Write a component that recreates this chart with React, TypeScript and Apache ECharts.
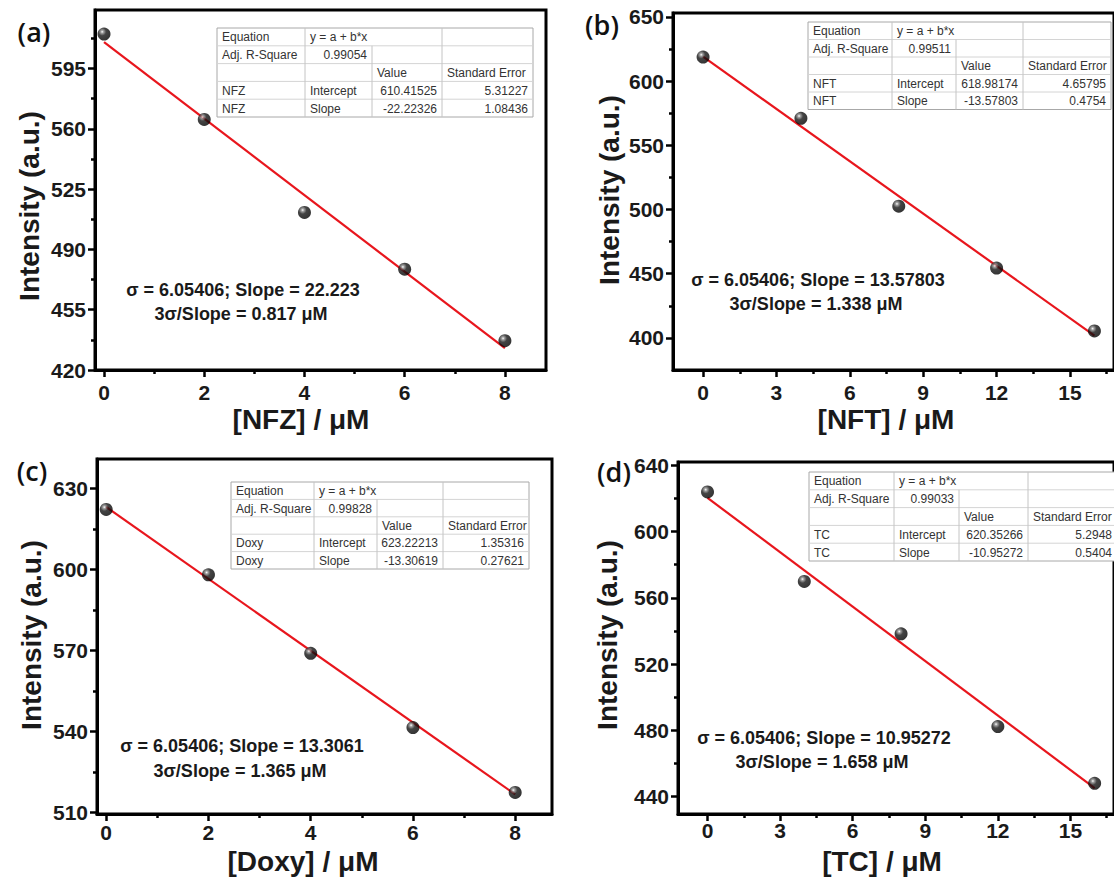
import React, { useEffect, useRef } from "react";
import * as echarts from "echarts";

const FONT = '"Liberation Sans", Arial, sans-serif';

// ---------- data ----------
const xA = [0, 2, 4, 6, 8];
const yA = [615, 565.5, 511.5, 478.5, 437];
const fitXA = [0, 8];
const fitYA = [610.42, 432.63];

const xB = [0, 4, 8, 12, 16];
const yB = [618.7, 571, 502.6, 454.4, 405.4];
const fitXB = [0, 16];
const fitYB = [618.98, 401.73];

const xC = [0, 2, 4, 6, 8];
const yC = [622.3, 598.1, 569, 541.5, 517.5];
const fitXC = [0, 8];
const fitYC = [623.22, 516.77];

const xD = [0, 4, 8, 12, 16];
const yD = [623.9, 569.9, 538.3, 482.3, 448];
const fitXD = [0, 16];
const fitYD = [620.35, 445.11];

// tick values
const xMajorA = [0, 2, 4, 6, 8];
const xMinorA = [1, 3, 5, 7];
const yMajorA = [420, 455, 490, 525, 560, 595];
const yMinorA = [437.5, 472.5, 507.5, 542.5, 577.5, 612.5];

const xMajorB = [0, 3, 6, 9, 12, 15];
const xMinorB = [1.5, 4.5, 7.5, 10.5, 13.5, 16.5];
const yMajorB = [400, 450, 500, 550, 600, 650];
const yMinorB = [425, 475, 525, 575, 625];

const xMajorC = [0, 2, 4, 6, 8];
const xMinorC = [1, 3, 5, 7];
const yMajorC = [510, 540, 570, 600, 630];
const yMinorC = [525, 555, 585, 615];

const xMajorD = [0, 3, 6, 9, 12, 15];
const xMinorD = [1.5, 4.5, 7.5, 10.5, 13.5, 16.5];
const yMajorD = [440, 480, 520, 560, 600, 640];
const yMinorD = [460, 500, 540, 580, 620];

// fit tables
const tableA = [
  ["Equation", "y = a + b*x", "", ""],
  ["Adj. R-Square", "0.99054", "", ""],
  ["", "", "Value", "Standard Error"],
  ["NFZ", "Intercept", "610.41525", "5.31227"],
  ["NFZ", "Slope", "-22.22326", "1.08436"],
];
const tableB = [
  ["Equation", "y = a + b*x", "", ""],
  ["Adj. R-Square", "0.99511", "", ""],
  ["", "", "Value", "Standard Error"],
  ["NFT", "Intercept", "618.98174", "4.65795"],
  ["NFT", "Slope", "-13.57803", "0.4754"],
];
const tableC = [
  ["Equation", "y = a + b*x", "", ""],
  ["Adj. R-Square", "0.99828", "", ""],
  ["", "", "Value", "Standard Error"],
  ["Doxy", "Intercept", "623.22213", "1.35316"],
  ["Doxy", "Slope", "-13.30619", "0.27621"],
];
const tableD = [
  ["Equation", "y = a + b*x", "", ""],
  ["Adj. R-Square", "0.99033", "", ""],
  ["", "", "Value", "Standard Error"],
  ["TC", "Intercept", "620.35266", "5.2948"],
  ["TC", "Slope", "-10.95272", "0.5404"],
];

const notesA = ["\u03c3 = 6.05406; Slope = 22.223", "3\u03c3/Slope = 0.817 \u03bcM"];
const notesB = ["\u03c3 = 6.05406; Slope = 13.57803", "3\u03c3/Slope = 1.338 \u03bcM"];
const notesC = ["\u03c3 = 6.05406; Slope = 13.3061", "3\u03c3/Slope = 1.365 \u03bcM"];
const notesD = ["\u03c3 = 6.05406; Slope = 10.95272", "3\u03c3/Slope = 1.658 \u03bcM"];

const xTitles = ["[NFZ] / \u03bcM", "[NFT] / \u03bcM", "[Doxy] / \u03bcM", "[TC] / \u03bcM"];
const yTitle = "Intensity (a.u.)";
const panelLabels = ["(a)", "(b)", "(c)", "(d)"];

// ---------- layout ----------
const panels = [
  {
    grid: { left: 95, top: 10, width: 451, height: 360 },
    xr: [-0.18, 8.82], yr: [420, 629],
    x: xA, y: yA, fx: fitXA, fy: fitYA,
    xMaj: xMajorA, xMin: xMinorA, yMaj: yMajorA, yMin: yMinorA,
    table: tableA, tcols: [217, 305, 372, 442, 533], ttop: 28, trow: 17.8,
    notes: notesA, notePos: [[243, 290], [241, 314]],
    xt: [301, 419], yt: [29, 206], lab: [34, 31], xMargin: 12,
  },
  {
    grid: { left: 673, top: 13, width: 445, height: 357 },
    xr: [-1.23, 16.8], yr: [375, 653],
    x: xB, y: yB, fx: fitXB, fy: fitYB,
    xMaj: xMajorB, xMin: xMinorB, yMaj: yMajorB, yMin: yMinorB,
    table: tableB, tcols: [808, 892, 956, 1023, 1111], ttop: 22, trow: 17.5,
    notes: notesB, notePos: [[818, 280], [816, 304]],
    xt: [886, 419], yt: [609, 190], lab: [602, 24], xMargin: 12,
  },
  {
    grid: { left: 97, top: 459, width: 455, height: 355 },
    xr: [-0.18, 8.72], yr: [509.5, 641],
    x: xC, y: yC, fx: fitXC, fy: fitYC,
    xMaj: xMajorC, xMin: xMinorC, yMaj: yMajorC, yMin: yMinorC,
    table: tableC, tcols: [231, 314, 377, 443, 529], ttop: 482, trow: 17.4,
    notes: notesC, notePos: [[242, 746], [240, 771]],
    xt: [303, 861], yt: [31, 635], lab: [32, 470], xMargin: 8,
  },
  {
    grid: { left: 678, top: 462, width: 449, height: 352 },
    xr: [-1.22, 16.8], yr: [429.5, 642],
    x: xD, y: yD, fx: fitXD, fy: fitYD,
    xMaj: xMajorD, xMin: xMinorD, yMaj: yMajorD, yMin: yMinorD,
    table: tableD, tcols: [809, 894, 959, 1028, 1117], ttop: 472, trow: 17.8,
    notes: notesD, notePos: [[824, 738], [822, 762]],
    xt: [882, 861], yt: [607, 635], lab: [614, 471], xMargin: 6,
  },
];

const isNum = (s: string) => /^-?[\d.]+$/.test(s);

function tableGraphics(rows: string[][], cols: number[], top: number, rowH: number) {
  const els: any[] = [];
  const w = cols[4] - cols[0];
  const h = rowH * rows.length;
  els.push({
    type: "rect", z: 100,
    shape: { x: cols[0], y: top, width: w, height: h },
    style: { fill: "#ffffff", stroke: "#a8a8a8", lineWidth: 1 },
  });
  for (let r = 1; r < rows.length; r++) {
    els.push({
      type: "line", z: 101,
      shape: { x1: cols[0], y1: top + r * rowH, x2: cols[4], y2: top + r * rowH },
      style: { stroke: "#d4d4d4", lineWidth: 1 },
    });
  }
  for (let c = 1; c < 4; c++) {
    for (let r = 0; r < rows.length; r++) {
      if (r === 0 && c === 2) continue;
      els.push({
        type: "line", z: 101,
        shape: { x1: cols[c], y1: top + r * rowH, x2: cols[c], y2: top + (r + 1) * rowH },
        style: { stroke: "#c4c4c4", lineWidth: 1 },
      });
    }
  }
  rows.forEach((row, r) => {
    row.forEach((txt, c) => {
      if (!txt) return;
      const right = isNum(txt);
      els.push({
        type: "text", z: 102,
        x: right ? cols[c + 1] - 5 : cols[c] + 5,
        y: top + r * rowH + rowH / 2 + 0.5,
        style: {
          text: txt, fill: "#333333", font: `12px ${FONT}`,
          align: right ? "right" : "left", verticalAlign: "middle",
          textAlign: right ? "right" : "left", textVerticalAlign: "middle",
        },
      });
    });
  });
  return els;
}

const ballColor = {
  type: "radial", x: 0.36, y: 0.32, r: 0.72,
  colorStops: [
    { offset: 0, color: "#ffffff" },
    { offset: 0.15, color: "#8a8a8a" },
    { offset: 0.42, color: "#151515" },
    { offset: 1, color: "#000000" },
  ],
};

function buildOption() {
  const grid: any[] = [];
  const xAxis: any[] = [];
  const yAxis: any[] = [];
  const series: any[] = [];
  let graphic: any[] = [];

  const axisLabelStyle = {
    color: "#1a1a1a", fontWeight: "bold", fontSize: 21, fontFamily: FONT,
  };

  panels.forEach((p, i) => {
    grid.push({
      ...p.grid, show: true, borderColor: "#000", borderWidth: 3,
      backgroundColor: "transparent", containLabel: false,
    });
    xAxis.push({
      type: "value", gridIndex: i, min: p.xr[0], max: p.xr[1], position: "bottom",
      axisLine: { show: true, onZero: false, lineStyle: { color: "#000", width: 3 } },
      axisTick: { show: true, customValues: p.xMaj, length: 7, lineStyle: { color: "#000", width: 2.5 } },
      axisLabel: { show: true, customValues: p.xMaj, margin: p.xMargin, ...axisLabelStyle },
      splitLine: { show: false },
    });
    xAxis.push({
      type: "value", gridIndex: i, min: p.xr[0], max: p.xr[1], position: "bottom",
      axisLine: { show: false, onZero: false },
      axisTick: { show: true, customValues: p.xMin, length: 4, lineStyle: { color: "#000", width: 2.5 } },
      axisLabel: { show: false },
      splitLine: { show: false },
    });
    yAxis.push({
      type: "value", gridIndex: i, min: p.yr[0], max: p.yr[1], position: "left",
      axisLine: { show: true, onZero: false, lineStyle: { color: "#000", width: 3 } },
      axisTick: { show: true, customValues: p.yMaj, length: 7, lineStyle: { color: "#000", width: 2.5 } },
      axisLabel: { show: true, customValues: p.yMaj, margin: 9, ...axisLabelStyle },
      splitLine: { show: false },
    });
    yAxis.push({
      type: "value", gridIndex: i, min: p.yr[0], max: p.yr[1], position: "left",
      axisLine: { show: false, onZero: false },
      axisTick: { show: true, customValues: p.yMin, length: 4, lineStyle: { color: "#000", width: 2.5 } },
      axisLabel: { show: false },
      splitLine: { show: false },
    });
    series.push({
      type: "line", xAxisIndex: 2 * i, yAxisIndex: 2 * i,
      data: p.fx.map((v, k) => [v, p.fy[k]]),
      symbol: "none", lineStyle: { color: "#e8161d", width: 2.2 }, z: 3, silent: true,
    });
    series.push({
      type: "scatter", xAxisIndex: 2 * i, yAxisIndex: 2 * i,
      data: p.x.map((v, k) => [v, p.y[k]]),
      symbol: "circle", symbolSize: 13,
      itemStyle: { color: ballColor, borderWidth: 0 }, z: 4,
    });

    graphic = graphic.concat(tableGraphics(p.table, p.tcols, p.ttop, p.trow));
    p.notes.forEach((t, k) => {
      graphic.push({
        type: "text", z: 102, x: p.notePos[k][0], y: p.notePos[k][1],
        style: {
          text: t, fill: "#1a1a1a", font: `bold 18px ${FONT}`,
          align: "center", verticalAlign: "middle", textAlign: "center", textVerticalAlign: "middle",
        },
      });
    });
    graphic.push({
      type: "text", z: 102, x: p.xt[0], y: p.xt[1],
      style: {
        text: xTitles[i], fill: "#1a1a1a", font: `bold 28px ${FONT}`,
        align: "center", verticalAlign: "middle", textAlign: "center", textVerticalAlign: "middle",
      },
    });
    graphic.push({
      type: "text", z: 102, x: p.yt[0], y: p.yt[1], rotation: Math.PI / 2,
      style: {
        text: yTitle, fill: "#1a1a1a", font: `bold 28px ${FONT}`,
        align: "center", verticalAlign: "middle", textAlign: "center", textVerticalAlign: "middle",
      },
    });
    graphic.push({
      type: "text", z: 102, x: p.lab[0], y: p.lab[1],
      style: {
        text: panelLabels[i], fill: "#111", font: `600 27px "Open Sans", ${FONT}`,
        align: "center", verticalAlign: "middle", textAlign: "center", textVerticalAlign: "middle",
      },
    });
  });

  return {
    animation: false,
    backgroundColor: "#ffffff",
    grid, xAxis, yAxis, series, graphic,
  };
}

export default function App() {
  const ref = useRef<HTMLDivElement | null>(null);
  useEffect(() => {
    if (!ref.current) return;
    const chart = echarts.init(ref.current, null, { renderer: "svg" });
    chart.setOption(buildOption() as any);
    return () => chart.dispose();
  }, []);
  return (
    <div
      ref={ref}
      style={{ position: "absolute", left: 0, top: 0, width: 1114, height: 877, background: "#fff" }}
    />
  );
}
